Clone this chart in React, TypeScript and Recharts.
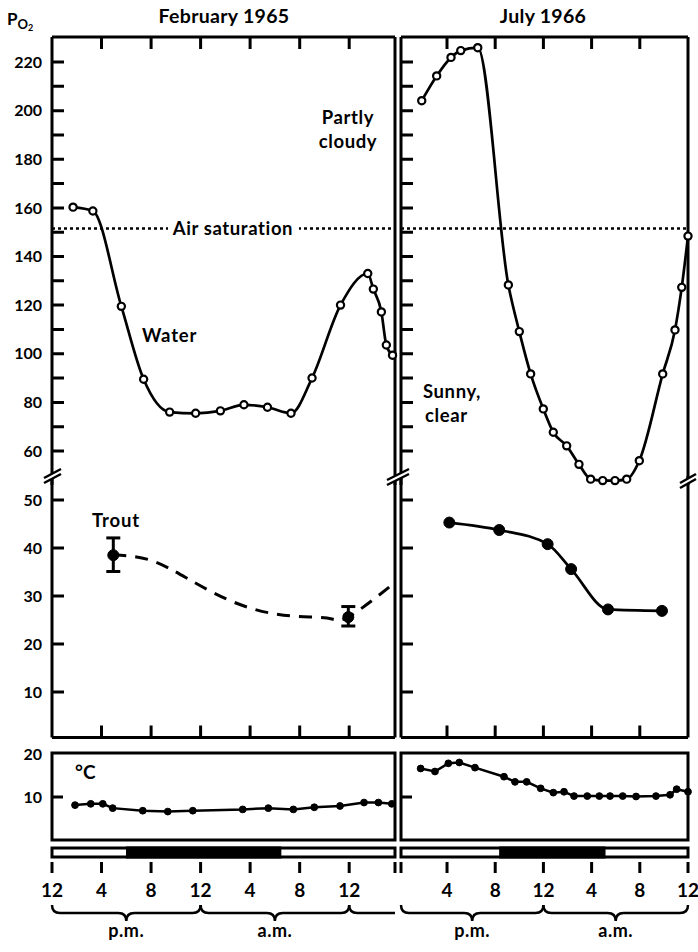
import React from 'react';
import { ComposedChart, Line, XAxis, YAxis, ReferenceLine, ReferenceArea, ErrorBar } from 'recharts';

const FONT = 'Lato, "Open Sans", "DejaVu Sans", sans-serif';

// ---------- DATA (hours after noon, value) ----------
// February 1965 – water PO2
const febWaterHours = [1.7, 3.3, 5.6, 7.4, 9.5, 11.6, 13.6, 15.5, 17.4, 19.3, 21.0, 23.3, 25.5, 25.95, 26.6, 27.0, 27.5];
const febWaterPO2 = [160.3, 158.7, 119.5, 89.5, 76, 75.5, 76.5, 79, 78, 75.5, 90, 120, 133, 126.6, 117.2, 103.6, 99.4];
// February 1965 – trout blood PO2 (mean ± range) and drawn trend
const febTroutHours = [4.95, 23.93];
const febTroutPO2 = [38.5, 25.6];
const febTroutErrLow = [3.4, 1.85];
const febTroutErrHigh = [3.6, 2.2];
const febTrendHours = [4.95, 7.9, 10.9, 14.6, 18.7, 22.2, 23.93, 27.6];
const febTrendPO2 = [38.6, 37.5, 33.7, 28.8, 26.0, 25.4, 25.6, 32.6];
// February 1965 – temperature
const febTempHours = [1.86, 3.13, 4.1, 4.9, 7.33, 9.35, 11.37, 15.4, 17.47, 19.49, 21.18, 23.26, 25.2, 26.36, 27.44];
const febTempC = [8.1, 8.4, 8.4, 7.4, 6.8, 6.6, 6.8, 7.1, 7.4, 7.1, 7.6, 7.9, 8.7, 8.7, 8.4];

// July 1966 – water PO2
const julWaterHours = [1.9, 3.14, 4.33, 5.14, 6.55, 9.09, 10.0, 10.94, 11.99, 12.82, 13.93, 14.95, 15.92, 16.92, 17.94, 18.91, 19.96, 21.9, 22.92, 23.48, 24.0];
const julWaterPO2 = [204.1, 214.3, 221.9, 224.7, 225.9, 128.3, 109.1, 91.7, 77.3, 67.7, 62.1, 54.5, 48.4, 47.8, 47.8, 48.4, 56.0, 91.7, 109.8, 127.3, 148.4];
// July 1966 – trout
const julTroutHours = [4.19, 8.33, 12.35, 14.3, 17.36, 21.84];
const julTroutPO2 = [45.3, 43.75, 40.8, 35.6, 27.2, 26.9];
// July 1966 – temperature
const julTempHours = [1.81, 3.0, 4.11, 5.02, 6.32, 8.73, 9.64, 10.61, 11.77, 12.82, 13.71, 14.54, 15.64, 16.64, 17.53, 18.58, 19.69, 21.34, 22.51, 23.06, 24.0];
const julTempC = [16.6, 15.9, 17.8, 18.0, 16.8, 14.7, 13.5, 13.5, 12.0, 11.0, 11.2, 10.2, 10.2, 10.2, 10.2, 10.2, 10.1, 10.2, 10.5, 11.8, 11.2];

// darkness (hours)
const febNight = [6.1, 18.4];
const julNight = [8.45, 17.03];

const airSaturation = 151.5;

// axes
const febX: [number, number] = [0, 27.7];
const julX: [number, number] = [0.18, 24];
const upperY: [number, number] = [46, 230.3];
const lowerY: [number, number] = [0.5, 55];
const tempY: [number, number] = [0, 20.2];
const upperTicks = [60, 70, 80, 90, 100, 110, 120, 130, 140, 150, 160, 170, 180, 190, 200, 210, 220];
const upperLabels = [60, 80, 100, 120, 140, 160, 180, 200, 220];
const lowerTicks = [10, 20, 30, 40, 50];
const lowerLabels = [10, 20, 30, 40, 50];
const tempTicks = [10];
const tempLabels = [10, 20];
const febHourTicks = [4, 8, 12, 16, 20, 24];
const julHourTicks = [4, 8, 12, 16, 20];
const febBottomTicks = [0, 4, 8, 12, 16, 20, 24, 27.7];
const julBottomTicks = [0.18, 4, 8, 12, 16, 20, 24];

const zip = (hs: number[], vs: number[]) => hs.map((h, i) => ({ h, v: vs[i] }));
const febWater = zip(febWaterHours, febWaterPO2);
const febTrout = febTroutHours.map((h, i) => ({ h, v: febTroutPO2[i], err: [febTroutErrLow[i], febTroutErrHigh[i]] }));
const febTrend = zip(febTrendHours, febTrendPO2);
const febTemp = zip(febTempHours, febTempC);
const julWater = zip(julWaterHours, julWaterPO2);
const julTrout = zip(julTroutHours, julTroutPO2);
const julTemp = zip(julTempHours, julTempC);

const M = 8;
const LABEL_W = 52;
const TICK_LEN = 12;

// plot geometry (px)
const LEFT_X = 52;
const RIGHT_X = 401;
const LEFT_W = 343;
const RIGHT_W = 287;
const UPPER_TOP = 37;
const UPPER_H = 448;
const LOWER_TOP = 476;
const LOWER_H = 261.6;
const TEMP_TOP = 753;
const TEMP_H = 87;

function Panel({ left, top, plotW, plotH, labelW, children }: any) {
  const lw = labelW ? LABEL_W : 0;
  const w = plotW + lw + 2 * M;
  const h = plotH + 2 * M;
  return (
    <div style={{ position: 'absolute', left: left - lw - M, top: top - M, width: w, height: h }}>
      <ComposedChart width={w} height={h} margin={{ top: M, right: M, bottom: M, left: M }}>
        {children}
      </ComposedChart>
    </div>
  );
}

const BLACK = { stroke: '#000', strokeWidth: 3 };

const frameLine = (props: any, key: string) => (
  <ReferenceLine key={key} {...props} {...BLACK} ifOverflow="visible" />
);

const yLabelTick = (p: any) => {
  const { x, y, payload } = p;
  return (
    <text x={x - 10} y={y} dy="0.36em" textAnchor="end" fontSize={16} fontWeight={700} fontFamily={FONT} fill="#000">
      {payload.value}
    </text>
  );
};

const hourLabel = (h: number) => {
  if (Math.abs(h - Math.round(h)) > 0.01) return '';
  const m = h % 12;
  return m === 0 ? '12' : String(m);
};

const BottomTick = (props: any) => {
  const { x, y, payload } = props;
  const tx = x > 680 ? x - 2 : x;
  return (
    <g>
      <line x1={x} x2={x} y1={y + 5} y2={y + 16} stroke="#000" strokeWidth={3} />
      <text x={tx} y={y + 40} textAnchor="middle" fontSize={19} fontWeight={700} fontFamily={FONT} fill="#000">
        {hourLabel(payload.value)}
      </text>
    </g>
  );
};

const Brace = (props: any) => {
  const { x, y, width, label, open } = props;
  const x0 = x;
  const x1 = x + width;
  const mid = (x0 + x1) / 2;
  const yt = y + 57;
  const ym = y + 65;
  const yb = y + 73;
  const d = open
    ? `M${x0},${yt} Q${x0},${ym} ${x0 + 8},${ym} L${x1},${ym}`
    : `M${x0},${yt} Q${x0},${ym} ${x0 + 8},${ym} L${mid - 8},${ym} Q${mid},${ym} ${mid},${yb} Q${mid},${ym} ${mid + 8},${ym} L${x1 - 8},${ym} Q${x1},${ym} ${x1},${yt}`;
  return (
    <g>
      <path d={d} fill="none" stroke="#000" strokeWidth={2.5} />
      {label ? (
        <text x={mid} y={y + 89} textAnchor="middle" fontSize={18} fontWeight={700} fontFamily={FONT} fill="#000" letterSpacing={0.5}>
          {label}
        </text>
      ) : null}
    </g>
  );
};

function BottomStrip({ left, plotW, xDomain, ticks, night, braces }: any) {
  const top = 848;
  const plotH = 9;
  const SM = 20;
  const w = plotW + 2 * SM;
  const h = 952 - (top - M);
  return (
    <div style={{ position: 'absolute', left: left - SM, top: top - M, width: w, height: h }}>
      <ComposedChart width={w} height={h} margin={{ top: M, right: SM, bottom: 0, left: SM }}>
        <XAxis type="number" dataKey="h" domain={xDomain} ticks={ticks} interval={0} height={h - M - plotH}
          axisLine={false} tickLine={false} tickSize={0} tickMargin={0} tick={<BottomTick />} allowDataOverflow />
        <YAxis type="number" hide domain={[0, 1]} allowDataOverflow />
        <ReferenceArea x1={xDomain[0]} x2={xDomain[1]} fill="#fff" stroke="#000" strokeWidth={3} fillOpacity={1} ifOverflow="visible" />
        <ReferenceArea x1={night[0]} x2={night[1]} fill="#000" fillOpacity={1} stroke="#000" strokeWidth={3} ifOverflow="visible" />
        {braces.map((b: any, i: number) => (
          <ReferenceArea key={'b' + i} x1={b.x1} x2={b.x2} ifOverflow="visible"
            shape={(p: any) => <Brace {...p} label={b.label} open={b.open} />} />
        ))}
      </ComposedChart>
    </div>
  );
}

const openDot = { r: 3.6, fill: '#fff', stroke: '#000', strokeWidth: 2.2 };
const solidDotSmall = { r: 3.4, fill: '#000', stroke: '#000', strokeWidth: 1 };
const solidDotBig = { r: 5.5, fill: '#000', stroke: '#000', strokeWidth: 1 };

function axesFor(xDomain: [number, number], yDomain: [number, number], labels: number[] | null) {
  return [
    <XAxis key="x" type="number" dataKey="h" domain={xDomain} hide />,
    labels ? (
      <YAxis key="y" type="number" domain={yDomain} ticks={labels} interval={0} width={LABEL_W}
        tick={yLabelTick} tickSize={0} tickMargin={0} axisLine={false} tickLine={false} />
    ) : (
      <YAxis key="y" type="number" domain={yDomain} hide />
    ),
  ];
}

function upperParts(xDomain: [number, number], withLabels: boolean) {
  return [
    ...axesFor(xDomain, upperY, withLabels ? upperLabels : null),
    frameLine({ x: xDomain[0] }, 'fl'),
    frameLine({ x: xDomain[1] }, 'fr'),
    frameLine({ y: upperY[1] }, 'ft'),
    <ReferenceLine key="air" y={airSaturation} stroke="#000" strokeWidth={2.5} strokeDasharray="3 3" ifOverflow="visible" />,
  ];
}

function lowerParts(xDomain: [number, number], withLabels: boolean) {
  return [
    ...axesFor(xDomain, lowerY, withLabels ? lowerLabels : null),
    frameLine({ x: xDomain[0] }, 'fl'),
    frameLine({ x: xDomain[1] }, 'fr'),
    frameLine({ y: lowerY[0] }, 'fb'),
  ];
}

function tempParts(xDomain: [number, number], withLabels: boolean) {
  return [
    ...axesFor(xDomain, tempY, withLabels ? tempLabels : null),
    <ReferenceArea key="frame" x1={xDomain[0]} x2={xDomain[1]} y1={tempY[0]} y2={tempY[1]} fill="none" stroke="#000"
      strokeWidth={3} ifOverflow="visible" />,
  ];
}

// linear maps matching the panel geometry, for the inward tick marks
const lin = (d: [number, number], p0: number, p1: number) => (v: number) => p0 + ((v - d[0]) / (d[1] - d[0])) * (p1 - p0);
const fxL = lin(febX, LEFT_X, LEFT_X + LEFT_W);
const fxR = lin(julX, RIGHT_X, RIGHT_X + RIGHT_W);
const fyU = lin(upperY, UPPER_TOP + UPPER_H, UPPER_TOP);
const fyL = lin(lowerY, LOWER_TOP + LOWER_H, LOWER_TOP);
const fyT = lin(tempY, TEMP_TOP + TEMP_H, TEMP_TOP);

function buildTickPath() {
  const parts: string[] = [];
  const r = (n: number) => n.toFixed(1);
  [LEFT_X, RIGHT_X].forEach((x0) => {
    upperTicks.forEach((v) => parts.push(`M${r(x0)} ${r(fyU(v))}H${r(x0 + TICK_LEN)}`));
    lowerTicks.forEach((v) => parts.push(`M${r(x0)} ${r(fyL(v))}H${r(x0 + TICK_LEN)}`));
    tempTicks.forEach((v) => parts.push(`M${r(x0)} ${r(fyT(v))}H${r(x0 + 11)}`));
  });
  febHourTicks.forEach((hh) => {
    parts.push(`M${r(fxL(hh))} ${UPPER_TOP}V${UPPER_TOP + TICK_LEN}`);
    parts.push(`M${r(fxL(hh))} ${r(LOWER_TOP + LOWER_H)}V${r(LOWER_TOP + LOWER_H - TICK_LEN)}`);
  });
  julHourTicks.forEach((hh) => {
    parts.push(`M${r(fxR(hh))} ${UPPER_TOP}V${UPPER_TOP + TICK_LEN}`);
    parts.push(`M${r(fxR(hh))} ${r(LOWER_TOP + LOWER_H)}V${r(LOWER_TOP + LOWER_H - TICK_LEN)}`);
  });
  return parts.join(' ');
}
const tickPath = buildTickPath();

const T = (p: any) => (
  <text fontFamily={FONT} fontWeight={700} fill="#000" {...p} />
);

export default function App() {
  return (
    <div style={{ position: 'absolute', left: 0, top: 0, width: 698, height: 952, background: '#fff', overflow: 'hidden' }}>
      {/* February 1965 */}
      <Panel left={LEFT_X} top={UPPER_TOP} plotW={LEFT_W} plotH={UPPER_H} labelW>
        {upperParts(febX, true)}
        <Line data={febWater} dataKey="v" type="monotone" stroke="#000" strokeWidth={2.7} dot={openDot} isAnimationActive={false} />
      </Panel>
      <Panel left={LEFT_X} top={LOWER_TOP} plotW={LEFT_W} plotH={LOWER_H} labelW>
        {lowerParts(febX, true)}
        <Line data={febTrend} dataKey="v" type="natural" stroke="#000" strokeWidth={3} strokeDasharray="13 9" dot={false} isAnimationActive={false} />
        <Line data={febTrout} dataKey="v" stroke="none" dot={solidDotBig} isAnimationActive={false}>
          <ErrorBar dataKey="err" width={7} stroke="#000" strokeWidth={3} direction="y" />
        </Line>
      </Panel>
      <Panel left={LEFT_X} top={TEMP_TOP} plotW={LEFT_W} plotH={TEMP_H} labelW>
        {tempParts(febX, true)}
        <Line data={febTemp} dataKey="v" type="linear" stroke="#000" strokeWidth={2.5} dot={solidDotSmall} isAnimationActive={false} />
      </Panel>
      <BottomStrip left={LEFT_X} plotW={LEFT_W} xDomain={febX} ticks={febBottomTicks} night={febNight}
        braces={[{ x1: 0, x2: 12, label: 'p.m.' }, { x1: 12, x2: 24, label: 'a.m.' }, { x1: 24, x2: 27.7, open: true }]} />

      {/* July 1966 */}
      <Panel left={RIGHT_X} top={UPPER_TOP} plotW={RIGHT_W} plotH={UPPER_H}>
        {upperParts(julX, false)}
        <Line data={julWater} dataKey="v" type="monotone" stroke="#000" strokeWidth={2.7} dot={openDot} isAnimationActive={false} />
      </Panel>
      <Panel left={RIGHT_X} top={LOWER_TOP} plotW={RIGHT_W} plotH={LOWER_H}>
        {lowerParts(julX, false)}
        <Line data={julTrout} dataKey="v" type="monotone" stroke="#000" strokeWidth={2.7} dot={solidDotBig} isAnimationActive={false} />
      </Panel>
      <Panel left={RIGHT_X} top={TEMP_TOP} plotW={RIGHT_W} plotH={TEMP_H}>
        {tempParts(julX, false)}
        <Line data={julTemp} dataKey="v" type="linear" stroke="#000" strokeWidth={2.5} dot={solidDotSmall} isAnimationActive={false} />
      </Panel>
      <BottomStrip left={RIGHT_X} plotW={RIGHT_W} xDomain={julX} ticks={julBottomTicks} night={julNight}
        braces={[{ x1: 0.18, x2: 12, label: 'p.m.' }, { x1: 12, x2: 24, label: 'a.m.' }]} />

      {/* annotations */}
      <svg width={698} height={952} style={{ position: 'absolute', left: 0, top: 0, pointerEvents: 'none' }}>
        <path d={tickPath} fill="none" stroke="#000" strokeWidth={3} />
        <T x={7} y={25} fontSize={17}>P<tspan dy={4} fontSize={13}>O</tspan><tspan dy={2} fontSize={9}>2</tspan></T>
        <T x={224} y={23} fontSize={19.5} textAnchor="middle" letterSpacing={0.3}>February 1965</T>
        <T x={543} y={23} fontSize={19.5} textAnchor="middle" letterSpacing={0.3}>July 1966</T>
        <T x={348} y={124} fontSize={18.5} textAnchor="middle" letterSpacing={0.6}>Partly</T>
        <T x={348} y={148} fontSize={18.5} textAnchor="middle" letterSpacing={0.6}>cloudy</T>
        <rect x={168} y={219} width={131} height={19} fill="#fff" />
        <T x={233} y={235} fontSize={18.5} textAnchor="middle" letterSpacing={0.6}>Air saturation</T>
        <T x={142} y={342} fontSize={18.5} letterSpacing={0.8}>Water</T>
        <T x={423} y={398} fontSize={18.5} letterSpacing={0.6}>Sunny,</T>
        <T x={425} y={422} fontSize={18.5} letterSpacing={0.6}>clear</T>
        <T x={92} y={527} fontSize={18.5} letterSpacing={0.8}>Trout</T>
        <T x={75} y={779} fontSize={19}>°C</T>
        {/* axis breaks */}
        <polygon points="44,478 61,469 61,474 44,483" fill="#fff" />
        <line x1={44} y1={478} x2={61} y2={469} stroke="#000" strokeWidth={2.5} />
        <line x1={44} y1={483} x2={61} y2={474} stroke="#000" strokeWidth={2.5} />
        <polygon points="387,480 409,469 409,474 387,485" fill="#fff" />
        <line x1={387} y1={480} x2={409} y2={469} stroke="#000" strokeWidth={2.5} />
        <line x1={387} y1={485} x2={409} y2={474} stroke="#000" strokeWidth={2.5} />
        <polygon points="680,483 696,474 696,479 680,488" fill="#fff" />
        <line x1={680} y1={483} x2={696} y2={474} stroke="#000" strokeWidth={2.5} />
        <line x1={680} y1={488} x2={696} y2={479} stroke="#000" strokeWidth={2.5} />
      </svg>
    </div>
  );
}
